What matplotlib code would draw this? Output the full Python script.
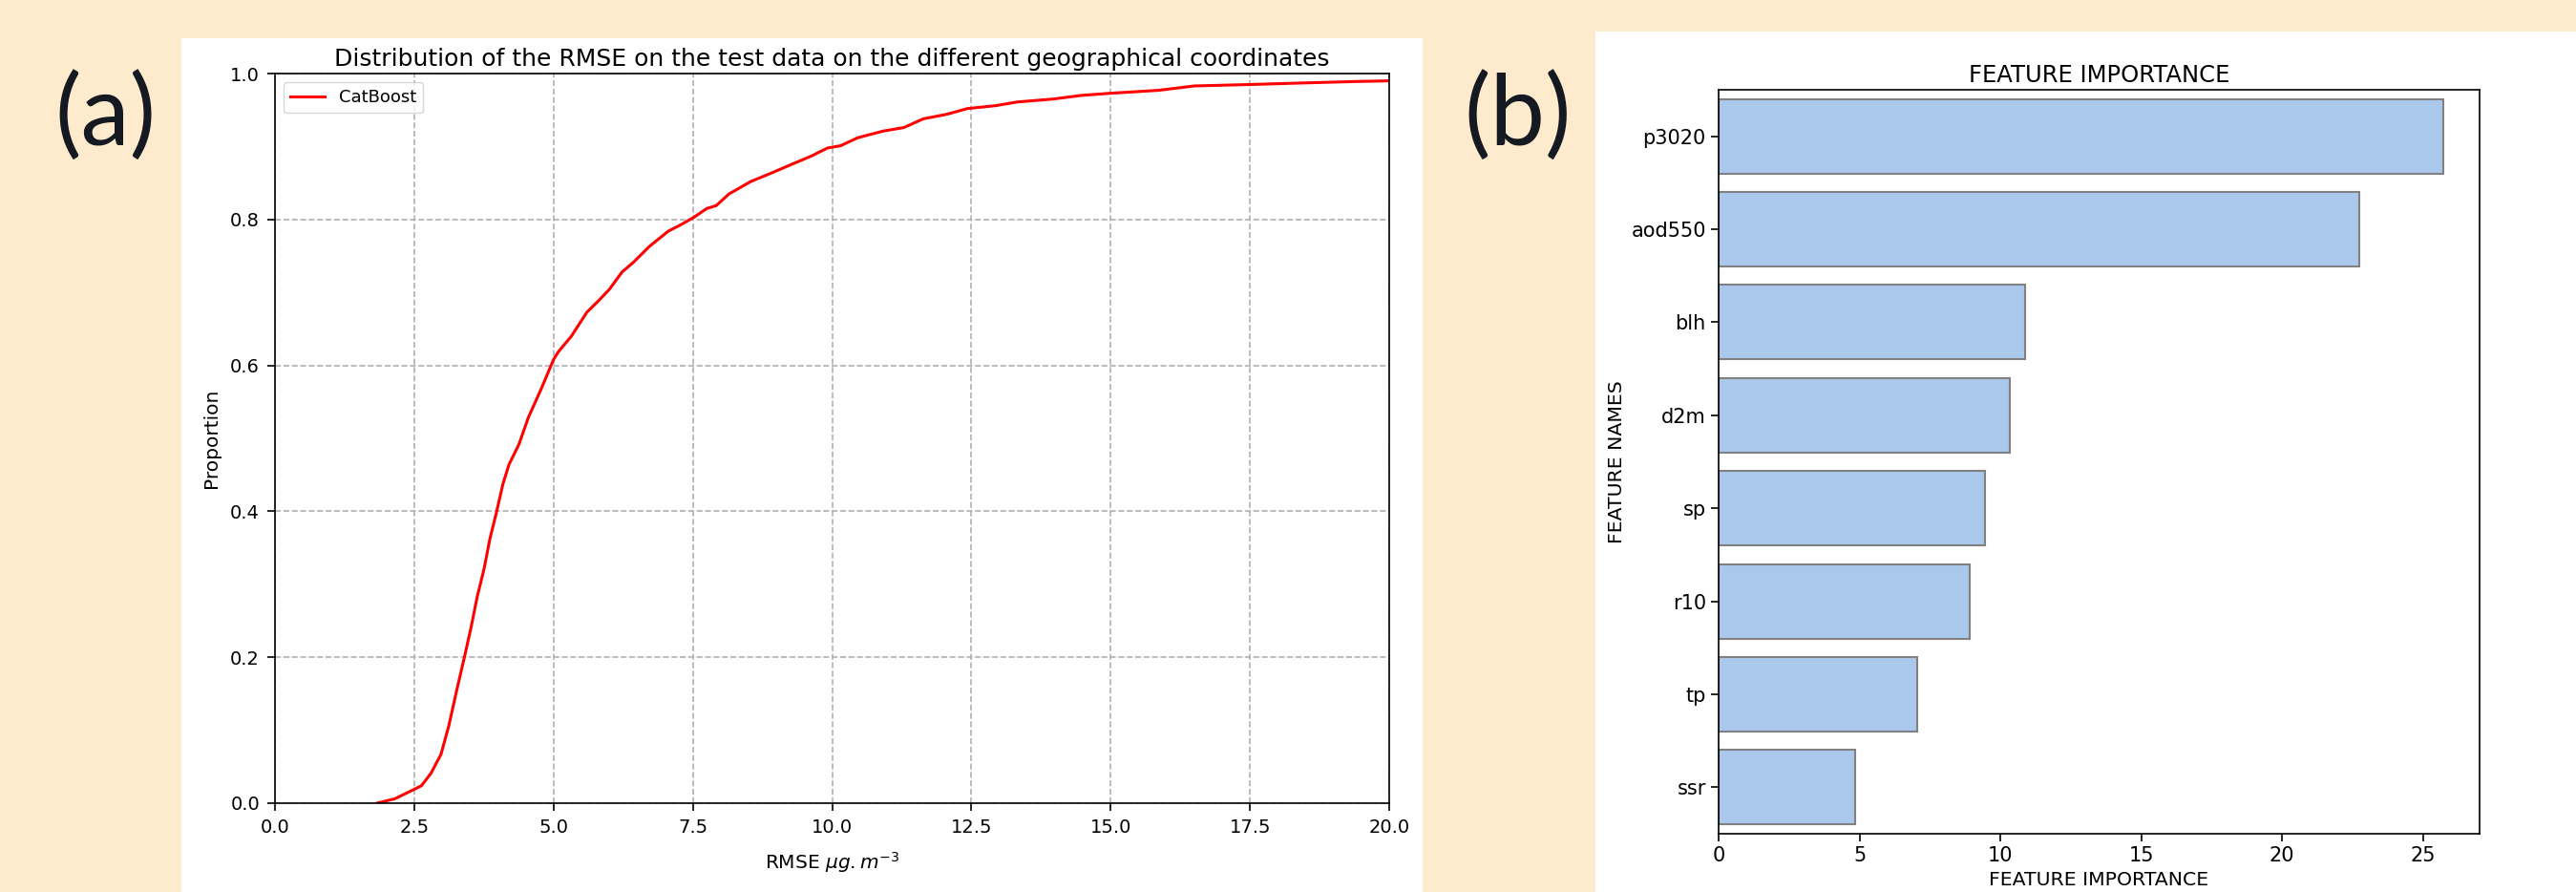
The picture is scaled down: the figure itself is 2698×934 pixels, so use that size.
import numpy as np
import matplotlib
matplotlib.use("Agg")
from matplotlib import pyplot as plt
from matplotlib.patches import Rectangle

# CDF of RMSE
rmse = [1.83, 2.15, 2.5, 2.63, 2.80, 2.98, 3.12, 3.26, 3.40, 3.52, 3.63, 3.75, 3.86,
        3.98, 4.09, 4.20, 4.38, 4.55, 4.78, 5.00, 5.09, 5.32, 5.60, 5.80, 6.00,
        6.23, 6.43, 6.72, 7.06, 7.29, 7.52, 7.75, 7.92, 8.15, 8.54, 8.89, 9.35,
        9.63, 9.92, 10.15, 10.46, 10.91, 11.29, 11.64, 12.05, 12.43, 12.94, 13.32,
        13.96, 14.47, 15.0, 15.86, 16.50, 17.52, 18.41, 19.36, 20.0]
proportion = [0.0, 0.006, 0.019, 0.024, 0.041, 0.067, 0.106, 0.154, 0.200, 0.241,
              0.283, 0.320, 0.363, 0.400, 0.437, 0.464, 0.492, 0.529, 0.568, 0.608,
              0.619, 0.640, 0.673, 0.688, 0.704, 0.728, 0.741, 0.763, 0.784, 0.793,
              0.803, 0.815, 0.819, 0.835, 0.852, 0.863, 0.878, 0.887, 0.898, 0.901,
              0.912, 0.921, 0.926, 0.938, 0.944, 0.952, 0.956, 0.961, 0.965, 0.970,
              0.973, 0.977, 0.983, 0.985, 0.987, 0.989, 0.990]

features = ["p3020", "aod550", "blh", "d2m", "sp", "r10", "tp", "ssr"]
importance = [25.73, 22.74, 10.88, 10.35, 9.45, 8.93, 7.06, 4.86]

W, H = 2698, 934
fig = plt.figure(figsize=(W / 100, H / 100), dpi=100)
fig.patch.set_facecolor("#feebcd")

# white panels behind each chart
def px_rect(x0, y0, x1, y1):
    return [x0 / W, 1 - y1 / H, (x1 - x0) / W, (y1 - y0) / H]

for x0, y0, x1, y1 in [(190, 40, 1490, 934), (1671, 33, 2698, 934)]:
    r = px_rect(x0, y0, x1, y1)
    fig.patches.append(Rectangle((r[0], r[1]), r[2], r[3], transform=fig.transFigure,
                                 facecolor="white", edgecolor="none", zorder=-10))

lab_font = ["Lato", "DejaVu Sans"]
fig.text(110 / W, 1 - 122 / H, "(a)", fontsize=74, family=lab_font, color="#151a22",
         ha="center", va="center")
fig.text(1590 / W, 1 - 122 / H, "(b)", fontsize=74, family=lab_font, color="#151a22",
         ha="center", va="center")

# (a) CDF
ax1 = fig.add_axes(px_rect(288, 77, 1455, 841))
ax1.plot(rmse, proportion, color="red", lw=2.2, label="CatBoost")
ax1.set_xlim(0, 20)
ax1.set_ylim(0, 1)
ax1.set_xticks(np.arange(0, 20.1, 2.5))
ax1.grid(True, linestyle="--", color="#b0b0b0", lw=1.2)
ax1.tick_params(labelsize=14, length=6, width=1.2, pad=5.5)
ax1.set_xlabel(r"RMSE $\mu g.m^{-3}$", fontsize=14.5, labelpad=10)
ax1.set_ylabel("Proportion", fontsize=14.5, labelpad=7)
ax1.set_title("Distribution of the RMSE on the test data on the different geographical coordinates",
              fontsize=18)
ax1.legend(loc="upper left", fontsize=13)
for s in ax1.spines.values():
    s.set_linewidth(1.2)

# (b) feature importance
ax2 = fig.add_axes(px_rect(1800, 94, 2597, 873))
ypos = np.arange(len(features))
ax2.barh(ypos, importance, height=0.8, color="#aac8eb", edgecolor="#808080", lw=1.5)
ax2.set_yticks(ypos)
ax2.set_yticklabels(features)
ax2.set_ylim(len(features) - 0.5, -0.5)
ax2.set_xlim(0, max(importance) * 1.05)
ax2.tick_params(labelsize=15, length=6, width=1.2)
ax2.set_xlabel("FEATURE IMPORTANCE", fontsize=14.7)
ax2.set_ylabel("FEATURE NAMES", fontsize=14.7)
ax2.set_title("FEATURE IMPORTANCE", fontsize=17.5)
for s in ax2.spines.values():
    s.set_linewidth(1.2)

fig.savefig("out.png", dpi=100, facecolor=fig.get_facecolor())
